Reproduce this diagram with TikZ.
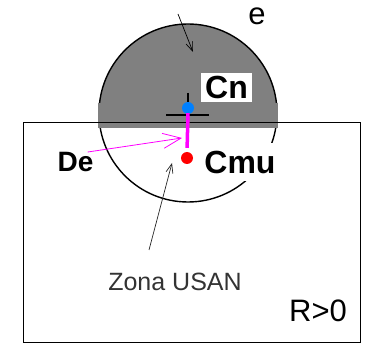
\documentclass[tikz,border=0pt]{standalone}
\usepackage{fontspec}
\setmainfont{Liberation Sans}
\usetikzlibrary{arrows.meta}
\definecolor{usangray}{RGB}{128,128,128}
\definecolor{usanpink}{RGB}{255,0,255}
\definecolor{usanblue}{RGB}{0,128,255}
\definecolor{usanred}{RGB}{255,0,0}

\begin{document}
\begin{tikzpicture}[x=1pt, y=-1pt,
    lbl/.style={font=\fontsize{32}{36}\selectfont\bfseries, inner sep=0pt},
    plain/.style={font=\fontsize{31}{36}\selectfont, inner sep=0pt},
    note/.style={font=\fontsize{25}{30}\selectfont, text=black!80, inner sep=0pt},
    arrow/.style={-{Straight Barb[length=9pt, width=7pt]}, line width=0.7pt},
    dot/.style={circle, inner sep=0pt, minimum size=12pt}
]
\useasboundingbox (0,0) rectangle (365,345);
% upper part of the mask, shaded
\begin{scope}
\clip (0,0) rectangle (365,128);
\fill[usangray] (188,113) circle[radius=89pt];
\end{scope}
\draw[line width=1.4pt] (188,113) circle[radius=89pt];
\fill[usangray] (98,103) rectangle (278,128);
\draw[line width=0.9pt] (23,122.5) rectangle (360,342.5);

\draw[line width=1.4pt] (188,93) -- (188,115) (166,115) -- (209,115);
\node[dot, fill=usanblue] (cn) at (188,108) {};
\node[dot, fill=usanred] (cmu) at (187,158) {};
\draw[usanpink, line width=3.5pt, shorten >=4pt] ([yshift=1pt]cn.south) -- (cmu.north);

\node[lbl, fill=white, minimum width=51pt, minimum height=29pt] (cnlbl) at (226.5,87.5) {Cn};
\node[lbl, fill=white, minimum width=78pt, minimum height=38pt] (cmulbl) at (240,162) {Cmu};
\node[lbl, font=\fontsize{28}{32}\selectfont\bfseries] (de) at (75.5,162) {De};
\node[plain] (e) at (257,16.5) {e};
\node[note] (zona) at (175,282) {Zona USAN};
\node[plain] (r) at (318,311) {R>0};

\coordinate (detip) at (182,138);
\coordinate (etail) at (178,14);
\coordinate (etip) at (193,52);
\coordinate (zonatail) at (149,250);
\coordinate (zonatip) at (172,163);

\draw[arrow, usanpink, line width=0.8pt, -{Straight Barb[length=18pt, width=15pt]}] ([xshift=-6pt]de.north east) -- (detip);
\draw[arrow] (etail) -- (etip);
\draw[arrow, black!85] (zonatail) -- (zonatip);
\end{tikzpicture}
\end{document}
